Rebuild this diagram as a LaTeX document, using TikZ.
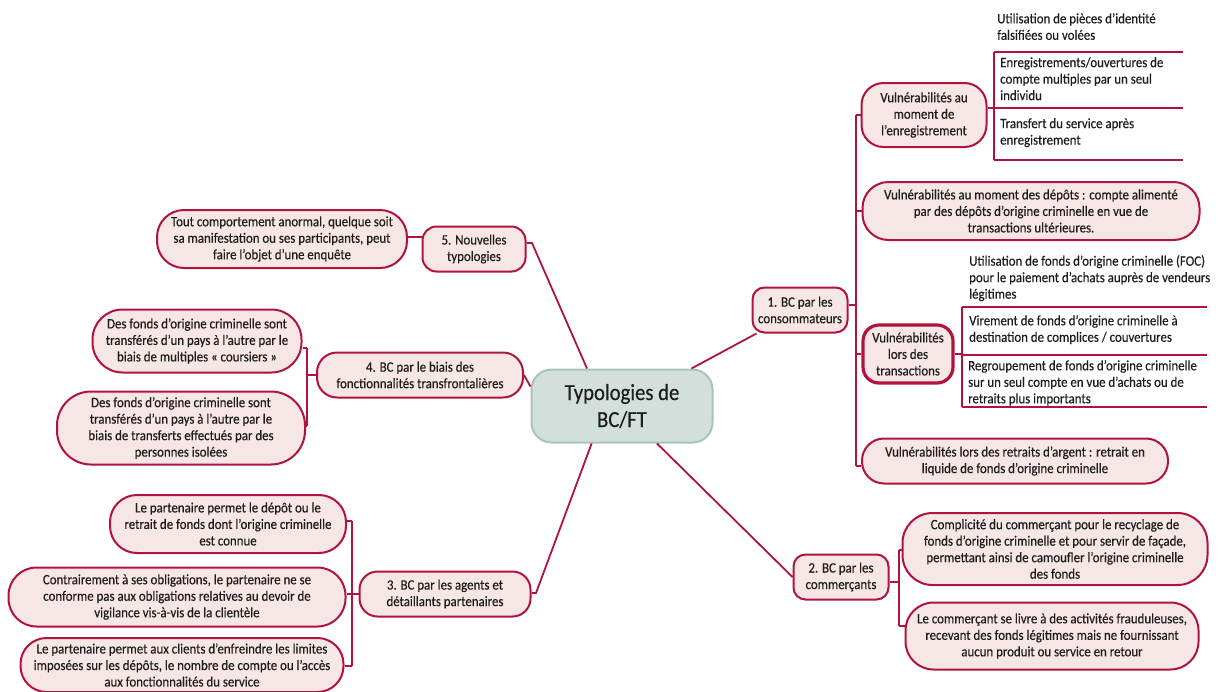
\documentclass[tikz,border=0pt]{standalone}
\usepackage{fontspec}
\setmainfont{Carlito}[FakeStretch=0.9,FakeBold=0.35]
\definecolor{crim}{RGB}{176,20,62}
\definecolor{pinkf}{RGB}{246,230,230}
\definecolor{cfill}{RGB}{211,223,218}
\definecolor{cdraw}{RGB}{168,196,186}
\definecolor{txt}{RGB}{30,28,28}
\begin{document}
\begin{tikzpicture}[x=1pt,y=-1pt,
  box/.style={draw=crim, fill=pinkf, line width=2pt, align=center, inner sep=0pt, text=txt,
    font=\fontsize{14.3}{16.5}\selectfont},
  sz/.style 2 args={minimum width=#1, minimum height=#2},
  item/.style={anchor=north west, align=left, inner sep=0pt, text=txt, font=\fontsize{14.3}{16.5}\selectfont},
  conn/.style={draw=crim, line width=1.8pt}]
\useasboundingbox (0,0) rectangle (1218,691);

% centre
\node[box, sz={181}{73}, draw=cdraw, fill=cfill, line width=2pt, rounded corners=20,
  font=\fontsize{23}{27}\selectfont] (C) at (622,406) {Typologies de\\BC/FT};

% main branches
\node[box, sz={95}{45}, rounded corners=12] (n1) at (800,310) {1. BC par les\\consommateurs};
\node[box, sz={95}{45}, rounded corners=12] (n2) at (841,577) {2. BC par les\\commerçants};
\node[box, sz={171}{45}, rounded corners=18] (n3) at (445,594) {3. BC par les agents et\\détaillants partenaires};
\node[box, sz={206}{45}, rounded corners=20] (n4) at (420,375) {4. BC par le biais des\\fonctionnalités transfrontalières};
\node[box, sz={103}{45}, rounded corners=14] (n5) at (474,249) {5. Nouvelles\\typologies};

% consumers
\node[box, sz={125}{64}, rounded corners=22] (e1) at (924,115) {Vulnérabilités au\\moment de\\l’enregistrement};
\node[box, sz={337}{58}, rounded corners=26] (e2) at (1031,211) {Vulnérabilités au moment des dépôts : compte alimenté\\par des dépôts d’origine criminelle en vue de\\transactions ultérieures.};
\node[box, sz={90}{58}, rounded corners=16, line width=3.2pt] (e3) at (908,354) {Vulnérabilités\\lors des\\transactions};
\node[box, sz={306}{45}, rounded corners=22] (e4) at (1015,461) {Vulnérabilités lors des retraits d’argent : retrait en\\liquide de fonds d’origine criminelle};

% registration items
\node[item] (t1) at (997,13) {Utilisation de pièces d’identité\\falsifiées ou volées};
\node[item] (t2) at (1000,57) {Enregistrements/ouvertures de\\compte multiples par un seul\\individu};
\node[item] (t3) at (1000,118) {Transfert du service après\\enregistrement};
\coordinate (r1a) at (994,52);  \coordinate (r1b) at (1183,52);
\coordinate (r2a) at (994,108); \coordinate (r2b) at (1183,108);
\coordinate (r3a) at (994,160); \coordinate (r3b) at (1183,160);
\draw[conn] (r1a) -- (r1b);
\draw[conn] (r2a) -- (r2b);
\draw[conn] (r3a) -- (r3b);
\draw[conn] (r1a) -- (r3a);
\draw[conn] (e1.east |- r2a) -- (r2a);

% transaction items
\node[item] (u1) at (969,255) {Utilisation de fonds d’origine criminelle (FOC)\\pour le paiement d’achats auprès de vendeurs\\légitimes};
\node[item] (u2) at (969,315) {Virement de fonds d’origine criminelle à\\destination de complices / couvertures};
\node[item] (u3) at (968,360) {Regroupement de fonds d’origine criminelle\\sur un seul compte en vue d’achats ou de\\retraits plus importants};
\coordinate (q1a) at (962,307); \coordinate (q1b) at (1207,307);
\coordinate (q2a) at (962,355); \coordinate (q2b) at (1207,355);
\coordinate (q3a) at (962,407); \coordinate (q3b) at (1207,407);
\draw[conn] (q1a) -- (q1b);
\draw[conn] (q2a) -- (q2b);
\draw[conn] (q3a) -- (q3b);
\draw[conn] (q1a) -- (q3a);
\draw[conn] (e3.east) -- (e3.east -| q1a);

% consumer bracket
\coordinate (k0) at (856,305);
\coordinate (k1) at (856,115);
\coordinate (k2) at (856,466);
\draw[conn] (k1) -- (k2);
\draw[conn] (n1.east |- k0) -- (k0);
\draw[conn] (e1.west) -- (e1.west -| k1);
\draw[conn] (e2.west) -- (e2.west -| k1);
\draw[conn] (e3.west) -- (e3.west -| k1);
\draw[conn] (k2) -- (k2 -| e4.west);

% merchants
\node[box, sz={305}{72}, rounded corners=30] (m1) at (1055,549) {Complicité du commerçant pour le recyclage de\\fonds d’origine criminelle et pour servir de façade,\\permettant ainsi de camoufler l’origine criminelle\\des fonds};
\node[box, sz={293}{67}, rounded corners=28] (m2) at (1052,636) {Le commerçant se livre à des activités frauduleuses,\\recevant des fonds légitimes mais ne fournissant\\aucun produit ou service en retour};
\coordinate (p1) at (899,550);
\coordinate (pm) at (899,582);
\coordinate (p2) at (899,626);
\draw[conn] (p1) -- (p2);
\draw[conn] (n2.east |- pm) -- (pm);
\draw[conn] (p1) -- (p1 -| m1.west);
\draw[conn] (p2) -- (p2 -| m2.west);

% agents
\node[box, sz={236}{58}, rounded corners=27] (a1) at (228,524) {Le partenaire permet le dépôt ou le\\retrait de fonds dont l’origine criminelle\\est connue};
\node[box, sz={337}{59}, rounded corners=28] (a2) at (177,597) {Contrairement à ses obligations, le partenaire ne se\\conforme pas aux obligations relatives au devoir de\\vigilance vis-à-vis de la clientèle};
\node[box, sz={323}{54}, rounded corners=26] (a3) at (182,665) {Le partenaire permet aux clients d’enfreindre les limites\\imposées sur les dépôts, le nombre de compte ou l’accès\\aux fonctionnalités du service};
\coordinate (g1) at (352,521);
\coordinate (gm) at (352,594);
\coordinate (g2) at (352,666);
\draw[conn] (g1) -- (g2);
\draw[conn] (n3.west) -- (n3.west -| g1);
\draw[conn] (g1 -| a1.east) -- (g1);
\draw[conn] (gm -| a2.east) -- (gm);
\draw[conn] (g2 -| a3.east) -- (g2);

% cross-border
\node[box, sz={209}{63}, rounded corners=30] (b1) at (197,341) {Des fonds d’origine criminelle sont\\transférés d’un pays à l’autre par le\\biais de multiples « coursiers »};
\node[box, sz={248}{73}, rounded corners=34] (b2) at (181,428) {Des fonds d’origine criminelle sont\\transférés d’un pays à l’autre par le\\biais de transferts effectués par des\\personnes isolées};
\coordinate (h1) at (307,348);
\coordinate (h2) at (307,426);
\draw[conn] (h1) -- (h2);
\draw[conn] (n4.west) -- (n4.west -| h1);
\draw[conn] (h1 -| b1.east) -- (h1);
\draw[conn] (h2 -| b2.east) -- (h2);

% new typologies
\node[box, sz={250}{58}, rounded corners=27] (f1) at (282,239) {Tout comportement anormal, quelque soit\\sa manifestation ou ses participants, peut\\faire l’objet d’une enquête};
\coordinate (fs) at (414,237);
\draw[conn] (f1.east |- fs) -- (n5.west |- fs);

% centre connectors
\draw[conn] (C) -- (n1);
\draw[conn] (C.-47) -- (n2.west);
\coordinate (n3k) at (536,593);
\draw[conn] (C.231) -- (n3k) -- (n3.east |- n3k);
\draw[conn] (n4.east) -- (C.168);
\coordinate (n5k) at (532,243);
\draw[conn] (C.133) -- (n5k) -- (n5.east |- n5k);
\end{tikzpicture}
\end{document}
